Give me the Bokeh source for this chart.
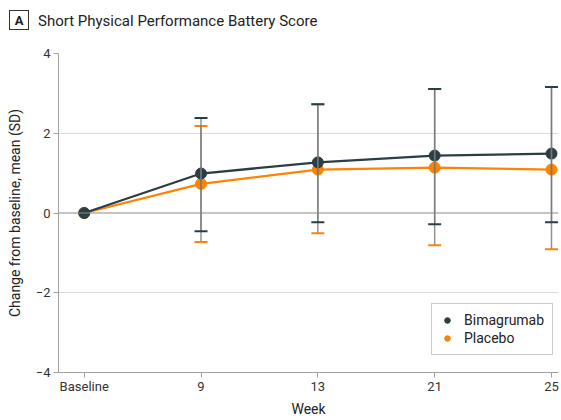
from bokeh.plotting import figure
from bokeh.layouts import column
from bokeh.models import (ColumnDataSource, Range1d, FixedTicker, Whisker, TeeHead,
                          Legend, LegendItem, Span, Div)
from bokeh.embed import file_html
from bokeh.resources import INLINE

# ---- data ----
categories = ["Baseline", "9", "13", "21", "25"]
bima_mean = [0.0, 0.99, 1.27, 1.44, 1.49]
bima_upper = [0.0, 2.38, 2.73, 3.11, 3.16]
bima_lower = [0.0, -0.46, -0.23, -0.28, -0.23]
plac_mean = [0.0, 0.73, 1.09, 1.14, 1.09]
plac_upper = [0.0, 2.18, 2.73, 3.11, 3.16]
plac_lower = [0.0, -0.73, -0.51, -0.81, -0.91]
y_ticks = [-4, -2, 0, 2, 4]
title_text = "Short Physical Performance Battery Score"
panel_letter = "A"

DARK = "#2c3e45"
ORANGE = "#ff8200"
FONT = "Roboto"

xs = list(range(len(categories)))
bima = ColumnDataSource(dict(x=xs, y=bima_mean))
plac = ColumnDataSource(dict(x=xs, y=plac_mean))
bima_w = ColumnDataSource(dict(x=xs[1:], up=bima_upper[1:], lo=bima_lower[1:]))
plac_w = ColumnDataSource(dict(x=xs[1:], up=plac_upper[1:], lo=plac_lower[1:]))

header = Div(width=561, height=45, margin=0, text=(
    '<div style="position:relative;width:561px;height:45px;font-family:Roboto;color:#222;">'
    '<span style="position:absolute;left:9px;top:10px;width:20px;height:20px;'
    'border:1px solid #333;font-weight:bold;font-size:13px;line-height:20px;'
    f'text-align:center;">{panel_letter}</span>'
    '<span style="position:absolute;left:38px;top:11px;font-size:15px;line-height:20px;'
    f'white-space:nowrap;">{title_text}</span></div>'))

p = figure(width=561, height=375, output_backend="svg", toolbar_location=None,
           x_range=Range1d(-0.22, 4.06), y_range=Range1d(-4, 4),
           min_border_left=58, min_border_right=3, min_border_top=8, min_border_bottom=48)
p.outline_line_color = None
p.background_fill_color = "white"

p.xaxis.ticker = FixedTicker(ticks=xs)
p.xaxis.major_label_overrides = {i: c for i, c in zip(xs, categories)}
p.yaxis.ticker = FixedTicker(ticks=y_ticks)
for ax in (p.xaxis[0], p.yaxis[0]):
    ax.axis_line_color = "#a0a0a0"
    ax.major_tick_line_color = "#a0a0a0"
    ax.minor_tick_line_color = None
    ax.major_tick_out = 5
    ax.major_tick_in = 0
    ax.major_label_text_font = FONT
    ax.major_label_text_font_size = "13px"
    ax.major_label_text_color = "#333333"
    ax.axis_label_text_font = FONT
    ax.axis_label_text_font_size = "14px"
    ax.axis_label_text_font_style = "normal"
    ax.axis_label_text_color = "#222222"
    ax.major_label_standoff = 1
p.xaxis.axis_label = "Week"
p.xaxis.axis_label_standoff = 4
p.yaxis.axis_label = "Change from baseline, mean (SD)"
p.yaxis.axis_label_standoff = 10
p.yaxis.major_label_standoff = 3

p.xgrid.visible = False
p.ygrid.ticker = FixedTicker(ticks=[-2, 2, 4])
p.ygrid.grid_line_color = "#dadada"
p.add_layout(Span(location=0, dimension="width", line_color="#8a8a8a", line_width=1.2))

for src, col in ((plac_w, ORANGE), (bima_w, DARK)):
    w = Whisker(source=src, base="x", upper="up", lower="lo",
                line_color="#777777", line_alpha=0.8, line_width=1.5,
                upper_head=TeeHead(size=13, line_color=col, line_width=2),
                lower_head=TeeHead(size=13, line_color=col, line_width=2),
                level="glyph")
    p.add_layout(w)

pl_line = p.line("x", "y", source=plac, line_color=ORANGE, line_width=2.3)
pl_pts = p.scatter("x", "y", source=plac, size=11, fill_color=ORANGE, line_color=ORANGE)
bi_line = p.line("x", "y", source=bima, line_color=DARK, line_width=2.3)
bi_pts = p.scatter("x", "y", source=bima, size=11, fill_color=DARK, line_color=DARK)

legend = Legend(items=[LegendItem(label="Bimagrumab", renderers=[bi_pts]),
                       LegendItem(label="Placebo", renderers=[pl_pts])],
                location=(373, 17))
legend.label_text_font = FONT
legend.label_text_font_size = "14px"
legend.label_text_color = "#222222"
legend.border_line_color = "#999999"
legend.border_line_width = 1
legend.glyph_width = 14
legend.glyph_height = 16
legend.label_height = 16
legend.label_standoff = 10
legend.spacing = 2
legend.padding = 8
legend.margin = 0
p.add_layout(legend)

layout = column(header, p, spacing=0)
open("out.html", "w").write(file_html(layout, INLINE))
